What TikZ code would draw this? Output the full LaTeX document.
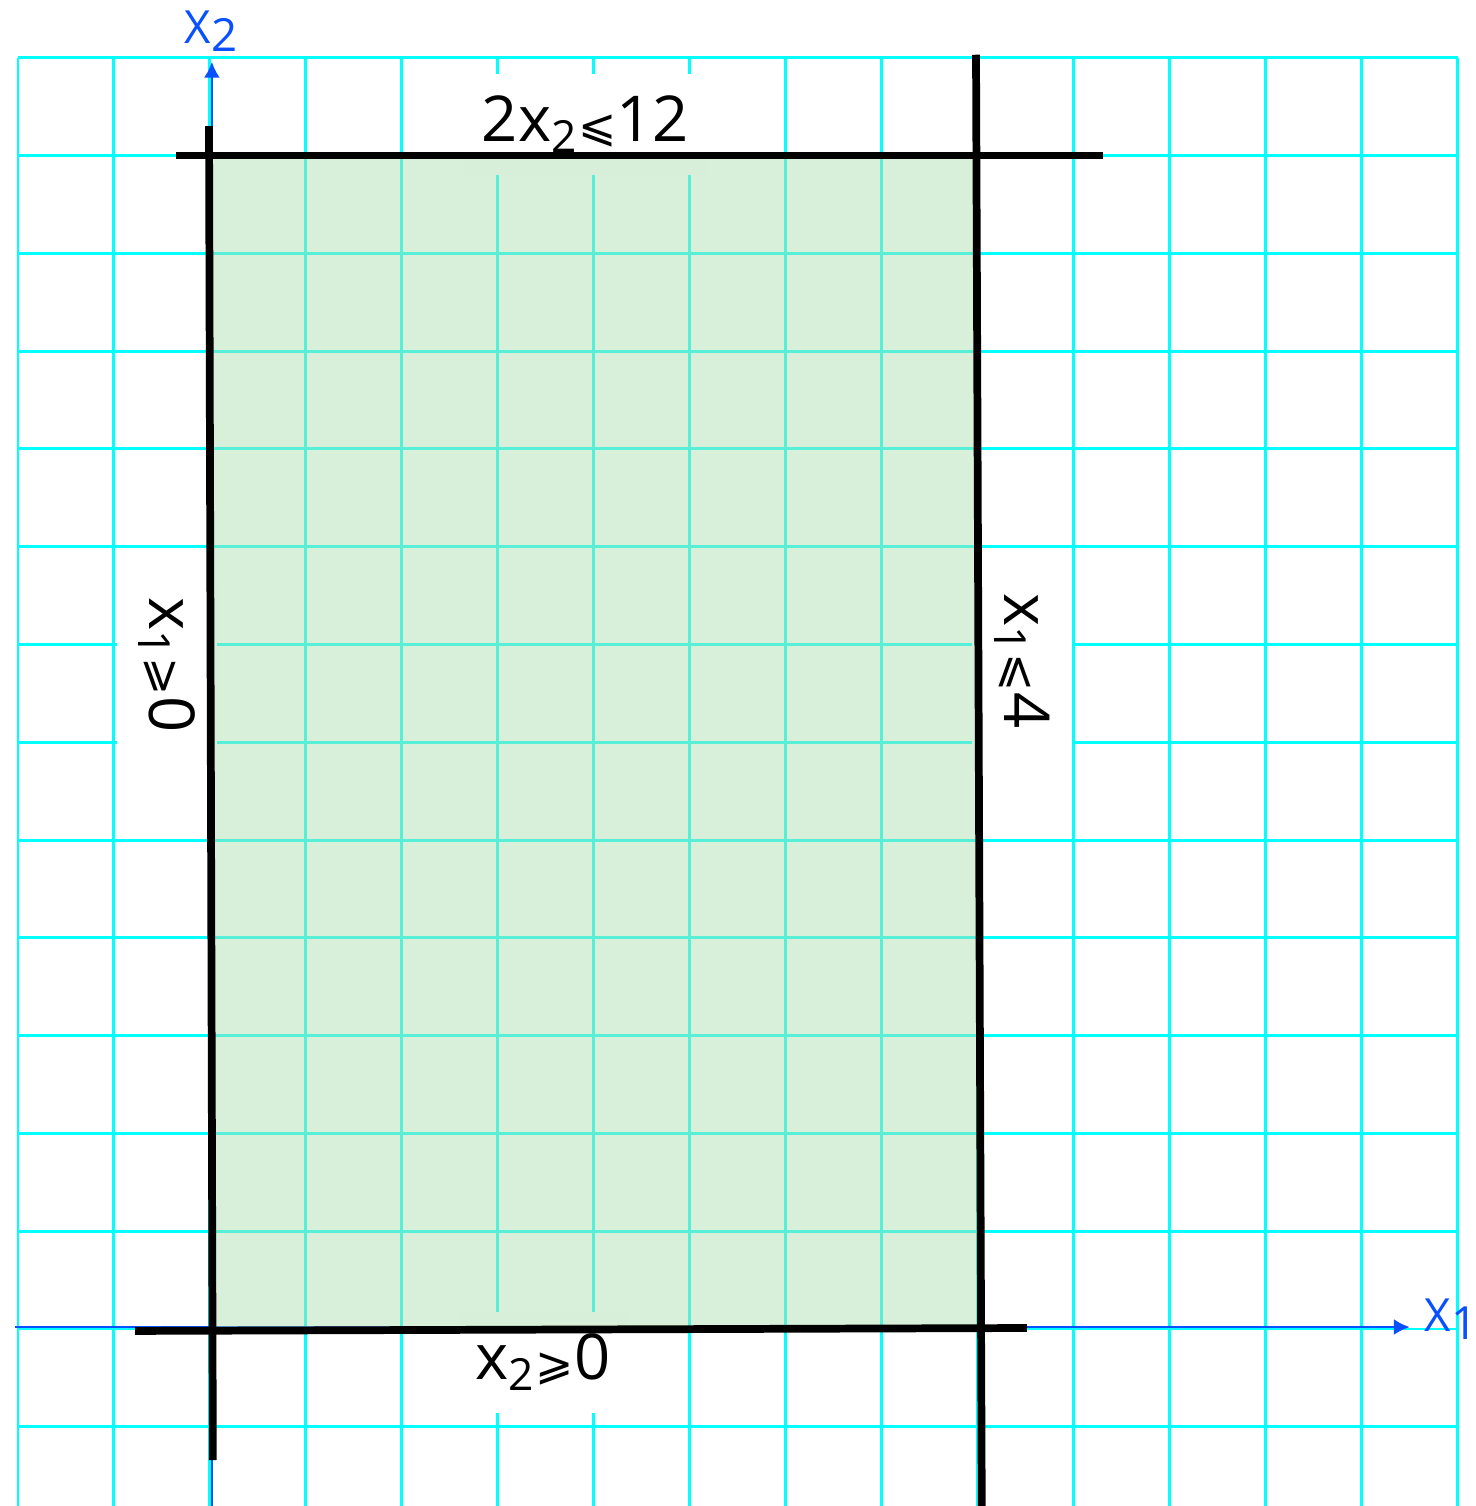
\documentclass[tikz,border=0pt]{standalone}
\usepackage{fontspec}
\setmainfont{Open Sans}
\newfontfamily\symfont{DejaVu Sans}
\usepackage{tikz}
\usetikzlibrary{arrows.meta,positioning}
\definecolor{gridcyan}{RGB}{0,255,255}
\definecolor{axisblue}{RGB}{10,80,255}
\definecolor{feasgreen}{RGB}{177,225,181}
\newcommand{\lesl}{{\symfont\fontsize{13}{13}\selectfont ⩽}}
\newcommand{\gesl}{{\symfont\fontsize{13}{13}\selectfont ⩾}}

\begin{document}
\begin{tikzpicture}[x=0.96cm, y=0.978cm,
    every node/.style={font=\fontsize{18}{20}\selectfont, inner sep=0pt},
    lbl/.style={fill=white, inner xsep=0.18cm, inner ysep=0.22cm},
    axlab/.style={text=axisblue, font=\fontsize{13}{15}\selectfont},
    bound/.style={line width=2.2pt, black},
    axis/.style={draw=axisblue, line width=0.8pt, -{Latex[length=0.16cm, width=0.16cm]}}]
    \useasboundingbox (-2.1875,-1.81) rectangle (13.1875,13.59);

    % grid
    \foreach \i in {-2,...,13}
        \draw[gridcyan, line width=0.85pt] (\i,-1.81) -- (\i,13);
    \foreach \j in {-1,...,13}
        \draw[gridcyan, line width=0.85pt] (-2,\j) -- (13,\j);

    % axes
    \coordinate (x1start) at (-2.03,0.02);
    \coordinate (x1end) at (12.5,0.02);
    \coordinate (x2start) at (0.02,-1.81);
    \coordinate (x2end) at (0.02,12.96);
    \draw[axis] (x1start) -- (x1end);
    \draw[axis] (x2start) -- (x2end);
    \node[axlab] (x1lab) at (12.93,0.10) {X\raisebox{-0.35ex}{1}};
    \node[axlab] (x2lab) at (0.01,13.27) {X\raisebox{-0.35ex}{2}};

    % constraint labels
    \node[lbl] (toplab) at (3.91,12.32) {2x\textsubscript{2}\lesl12};
    \node[lbl] (botlab) at (3.47,-0.34) {x\textsubscript{2}\gesl0};
    \node[lbl, rotate=-90] (leftlab) at (-0.45,6.79) {x\textsubscript{1}\gesl0};
    \node[lbl, rotate=-90] (rightlab) at (8.46,6.83) {x\textsubscript{1}\lesl4};

    % feasible region
    \fill[feasgreen, opacity=0.5] (0,0) rectangle (8,12.03);

    % constraint lines
    \coordinate (topL) at (-0.354,12);
    \coordinate (topR) at (9.30,12);
    \coordinate (leftT) at (-0.01,12.30);
    \coordinate (leftB) at (0.03,-1.34);
    \coordinate (rightT) at (7.98,13.03);
    \coordinate (rightB) at (8.04,-1.81);
    \coordinate (botL) at (-0.78,-0.02);
    \coordinate (botR) at (8.51,0.01);
    \draw[bound] (topL) -- (topR);
    \draw[bound] (leftT) -- (leftB);
    \draw[bound] (rightT) -- (rightB);
    \draw[bound] (botL) -- (botR);
\end{tikzpicture}
\end{document}
